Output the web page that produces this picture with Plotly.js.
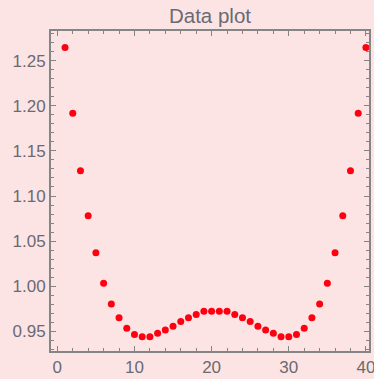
<!DOCTYPE html>
<html>
<head>
<meta charset="utf-8">
<script src="https://cdn.plot.ly/plotly-3.0.1.min.js"></script>
<style>
html,body{margin:0;padding:0;background:#fde4e4;}
#plot{width:374px;height:379px;}
</style>
</head>
<body>
<div id="plot"></div>
<script>
const xValues = [1,2,3,4,5,6,7,8,9,10,11,12,13,14,15,16,17,18,19,20,
                 21,22,23,24,25,26,27,28,29,30,31,32,33,34,35,36,37,38,39,40];
const yValues = [1.265,1.192,1.128,1.078,1.037,1.003,0.980,0.9648,0.953,0.9460,
                 0.9437,0.9437,0.9474,0.951,0.9552,0.9605,0.9648,0.9683,0.9720,0.9720,
                 0.9720,0.9720,0.9683,0.9648,0.9605,0.9552,0.951,0.9474,0.9437,0.9437,
                 0.9460,0.953,0.9648,0.980,1.003,1.037,1.078,1.128,1.192,1.265];
const titleText = "Data plot";

const axisCommon = {
  showline: true, linecolor: '#858585', linewidth: 2, mirror: 'allticks',
  ticks: 'inside', ticklen: 5, tickwidth: 1, tickcolor: '#858585',
  showgrid: false, zeroline: false, ticklabeloverflow: 'allow',
  tickfont: {family: 'Liberation Sans, Arial, sans-serif', size: 17, color: '#6a6a72'}
};

const trace = {
  x: xValues, y: yValues, type: 'scatter', mode: 'markers',
  marker: {color: '#ff0010', size: 7}
};

const layout = Object.assign({
  width: 374, height: 379,
  paper_bgcolor: '#fde4e4', plot_bgcolor: '#fde4e4',
  margin: {l: 51, r: 5, t: 31, b: 28},
  showlegend: false,
  title: {text: titleText, x: 0.5, xref: 'paper', y: 1 - 15.5/379, yref: 'container', yanchor: 'middle',
          font: {family: 'Liberation Sans, Arial, sans-serif', size: 20.5, color: '#6a6a72'}},
  xaxis: Object.assign({}, axisCommon, {
    range: [-0.82, 40.4], tick0: 0, dtick: 10,
    minor: {ticks: 'inside', ticklen: 3, dtick: 2, tick0: 0, tickcolor: '#858585', showgrid: false}
  }),
  yaxis: Object.assign({}, axisCommon, {
    range: [0.9278, 1.2833], tick0: 0.95, dtick: 0.05, tickformat: '.2f',
    minor: {ticks: 'inside', ticklen: 3, dtick: 0.01, tick0: 0.95, tickcolor: '#858585', showgrid: false}
  })
});

Plotly.newPlot('plot', [trace], layout, {displayModeBar: false, staticPlot: true});
</script>
</body>
</html>
